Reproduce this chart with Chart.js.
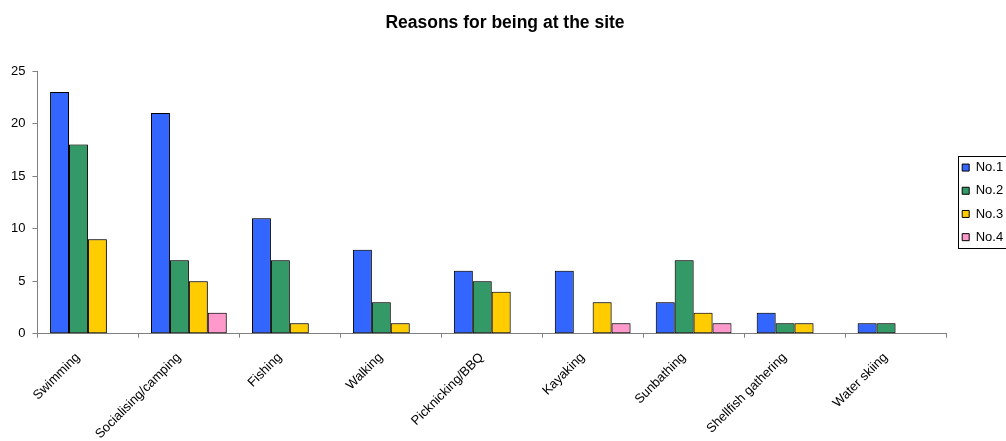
<!DOCTYPE html>
<html>
<head>
<meta charset="utf-8">
<title>Reasons for being at the site</title>
<script src="https://cdn.jsdelivr.net/npm/chart.js@4.4.0/dist/chart.umd.min.js"></script>
<style>
  html, body { margin: 0; padding: 0; background: #fff; overflow: hidden; }
  #wrap { width: 1006px; height: 441px; position: relative; }
</style>
</head>
<body>
<div id="wrap"><canvas id="myChart"></canvas></div>
<script>
// how many people gave each activity as their No.1 .. No.4 reason
var reasons = ['Swimming', 'Socialising/camping', 'Fishing', 'Walking', 'Picknicking/BBQ', 'Kayaking', 'Sunbathing', 'Shellfish gathering', 'Water skiing'];
var no1 = [23, 21, 11, 8, 6, 6, 3, 2, 1];
var no2 = [18, 7, 7, 3, 5, null, 7, 1, 1];
var no3 = [9, 5, 1, 1, 4, 3, 2, 1, null];
var no4 = [null, 2, null, null, null, 1, 1, null, null];
var yTicks = [0, 5, 10, 15, 20, 25];

var seriesNames = ['No.1', 'No.2', 'No.3', 'No.4'];
var seriesColors = ['#3366ff', '#339966', '#ffcc00', '#ff99cc'];

Chart.defaults.font.family = 'Arial, "Liberation Sans", sans-serif';
Chart.defaults.font.size = 13;
Chart.defaults.color = '#000';

var LEGEND_W = 60;
var LEGEND_SHIFT = 6;

// fixed width legend, centred on the plot, with a frame round it
var legendFrame = {
    id: 'legendFrame',
    beforeLayout: function (chart) {
        var lg = chart.legend;
        if (lg && !lg._fixedWidth) {
            var fit = lg.fit;
            lg.fit = function () {
                fit.call(this);
                this.width = LEGEND_W;
            };
            lg._fixedWidth = true;
        }
    },
    afterLayout: function (chart) {
        var lg = chart.legend;
        if (!lg) return;
        lg.left += LEGEND_SHIFT;
        lg.right += LEGEND_SHIFT;
        lg.top = chart.chartArea.top;
        lg.bottom = chart.chartArea.bottom;
        lg.height = lg.bottom - lg.top;
    },
    afterDraw: function (chart) {
        var lg = chart.legend;
        if (!lg || !lg.legendHitBoxes || !lg.legendHitBoxes.length) return;
        var boxes = lg.legendHitBoxes;
        var first = boxes[0], last = boxes[boxes.length - 1];
        var pad = lg.options.labels.padding;
        var top = Math.round(first.top + first.height / 2 - 12) + 0.5;
        var bottom = Math.round(last.top + last.height / 2 + 10.5) + 0.5;
        var left = Math.round(lg.left + pad - 4) + 0.5;
        var ctx = chart.ctx;
        ctx.save();
        ctx.strokeStyle = '#000';
        ctx.lineWidth = 1;
        ctx.strokeRect(left, top, 80, bottom - top);
        ctx.restore();
    }
};

// soft grey edge round the bars
var barHalo = {
    id: 'barHalo',
    beforeDatasetsDraw: function (chart) {
        var ctx = chart.ctx;
        ctx.save();
        ctx.shadowColor = 'rgba(0, 0, 0, 0.45)';
        ctx.shadowBlur = 2;
        ctx.shadowOffsetX = 0;
        ctx.shadowOffsetY = 0;
    },
    afterDatasetsDraw: function (chart) {
        chart.ctx.restore();
    }
};

var datasets = [no1, no2, no3, no4].map(function (vals, i) {
    return {
        label: seriesNames[i],
        data: vals,
        backgroundColor: seriesColors[i],
        borderColor: '#000',
        borderWidth: 1,
        borderSkipped: false
    };
});

var ctx = document.getElementById('myChart');

var reasonsChart = new Chart(ctx, {
    type: 'bar',
    data: {
        labels: reasons,
        datasets: datasets
    },
    options: {
        responsive: true,
        maintainAspectRatio: false,
        animation: false,
        devicePixelRatio: 1,
        categoryPercentage: 0.75,
        barPercentage: 1,
        layout: {
            padding: { left: 4, right: 0, top: 0, bottom: -13 }
        },
        plugins: {
            title: {
                display: true,
                text: 'Reasons for being at the site',
                color: '#000',
                font: { size: 17.5, weight: 'bold' },
                padding: { top: 13, bottom: 37 }
            },
            legend: {
                position: 'right',
                labels: {
                    boxWidth: 7,
                    boxHeight: 7,
                    padding: 10.2,
                    color: '#000',
                    font: { size: 13 }
                }
            },
            tooltip: { enabled: false }
        },
        scales: {
            x: {
                grid: {
                    drawOnChartArea: false,
                    drawTicks: true,
                    tickLength: 4,
                    color: '#808080'
                },
                border: { color: '#808080', width: 1 },
                ticks: {
                    minRotation: 45,
                    maxRotation: 45,
                    padding: 12,
                    labelOffset: -10,
                    autoSkip: false,
                    color: '#000'
                }
            },
            y: {
                min: yTicks[0],
                max: yTicks[yTicks.length - 1],
                afterBuildTicks: function (axis) {
                    axis.ticks = yTicks.map(function (v) { return { value: v }; });
                },
                grid: {
                    drawOnChartArea: false,
                    drawTicks: true,
                    tickLength: 5,
                    color: '#808080'
                },
                border: { color: '#808080', width: 1 },
                ticks: {
                    padding: 7,
                    color: '#000'
                }
            }
        }
    },
    plugins: [legendFrame, barHalo]
});
</script>
</body>
</html>
